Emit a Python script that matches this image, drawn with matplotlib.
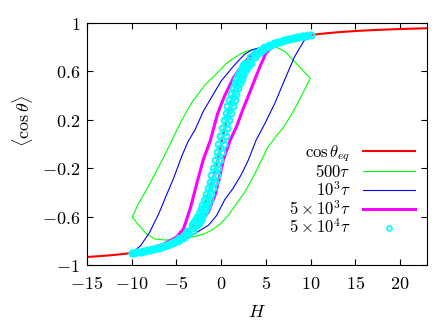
import matplotlib
matplotlib.use('Agg')
import matplotlib.pyplot as plt

plt.rcParams['mathtext.fontset'] = 'cm'
plt.rcParams['font.family'] = ['DejaVu Serif']

# equilibrium curve cos(theta_eq)
eq_h = [-15, -14, -13, -12, -11, -10, -9, -8, -7, -6, -5, -4, -3, -2.5, -2, -1.5, -1, -0.5, 0,
        0.5, 1, 1.5, 2, 2.5, 3, 4, 5, 6, 7, 8, 9, 10, 11, 12, 13, 14, 15, 16, 17, 18, 19, 20, 21, 22, 23]
eq_v = [-0.9333, -0.9286, -0.9231, -0.9167, -0.9091, -0.9, -0.8889, -0.875, -0.8571, -0.8333, -0.8, -0.7503,
        -0.6716, -0.6136, -0.5373, -0.438, -0.313, -0.164, 0.0, 0.164, 0.313, 0.438, 0.5373, 0.6136, 0.6716,
        0.7503, 0.8, 0.8333, 0.8571, 0.875, 0.8889, 0.9, 0.9091, 0.9167, 0.9231, 0.9286, 0.9333, 0.9375,
        0.9412, 0.9444, 0.9474, 0.95, 0.9524, 0.9545, 0.9565]

# 500 tau loop (lower branch then upper branch)
g_h = [-9.93, -9.2, -8.4, -7.4, -6.4, -5.2, -4.0, -3.0, -2.0, -1.0, 0.0, 0.9, 1.8, 2.7, 3.6, 4.4, 5.2, 6.0,
       7.0, 8.0, 9.0, 9.97,
       8.6, 7.2, 6.2, 5.0, 4.0, 3.0, 2.3, 1.2, 0.5, -0.4, -1.0, -1.8, -2.5, -3.3, -4.0, -4.8, -5.5, -6.3,
       -7.2, -8.0, -8.6, -9.3, -9.93]
g_v = [-0.606, -0.67, -0.74, -0.785, -0.793, -0.79, -0.78, -0.765, -0.745, -0.71, -0.655, -0.58, -0.485,
       -0.39, -0.27, -0.15, -0.03, 0.05, 0.14, 0.26, 0.40, 0.543,
       0.65, 0.76, 0.80, 0.80, 0.785, 0.77, 0.75, 0.70, 0.66, 0.59, 0.545, 0.49, 0.42, 0.34, 0.25, 0.14,
       0.03, -0.09, -0.22, -0.33, -0.41, -0.50, -0.606]

# 1e3 tau loop
b_h = [-10.0, -8.0, -6.0, -4.5, -4.0, -2.9, -1.4, -0.5, 0.4, 1.3, 2.2, 3.0, 3.9, 4.9, 6.0, 7.1, 8.2, 9.4,
       10.0,
       8.0, 6.0, 4.5, 3.4, 2.6, 1.4, 0.0, -1.2, -2.0, -2.9, -3.7, -4.4, -5.3, -6.1, -7.0, -8.0, -9.0, -9.4,
       -10.0]
b_v = [-0.895, -0.87, -0.83, -0.795, -0.78, -0.738, -0.67, -0.59, -0.46, -0.37, -0.26, -0.14, 0.03, 0.17,
       0.336, 0.53, 0.72, 0.87, 0.89,
       0.87, 0.84, 0.80, 0.777, 0.74, 0.645, 0.52, 0.37, 0.27, 0.12, 0.02, -0.10, -0.28, -0.42, -0.58,
       -0.73, -0.84, -0.865, -0.895]

# 5e3 tau loop
m_h = [-10.0, -8.0, -6.0, -4.5, -3.6, -2.5, -1.4, -0.67, -0.2, 0.26, 1.0, 1.7, 2.4, 2.9, 3.8, 4.4, 5.0,
       6.0, 8.0, 10.0,
       8.0, 6.0, 4.7, 3.6, 2.5, 1.4, 0.4, -0.4, -0.8, -1.2, -2.0, -2.7, -3.4, -4.2, -5.0, -6.5, -8.0, -10.0]
m_v = [-0.9, -0.87, -0.83, -0.76, -0.71, -0.655, -0.56, -0.42, -0.28, -0.13, 0.03, 0.14, 0.28, 0.37, 0.54,
       0.65, 0.75, 0.82, 0.87, 0.9,
       0.88, 0.84, 0.80, 0.75, 0.667, 0.55, 0.40, 0.25, 0.14, 0.03, -0.13, -0.32, -0.52, -0.70, -0.77,
       -0.83, -0.865, -0.9]

# 5e4 tau: field decreasing branch
c_dn_h = [-10.0, -9.5, -9.0, -8.5, -8.0, -7.5, -7.0, -6.6, -6.1, -5.6, -5.2, -4.7, -4.2, -3.8, -3.3, -3.1,
          -2.9, -2.7, -2.5, -2.3, -2.1, -1.9, -1.7, -1.5, -1.3, -1.1, -0.9, -0.7, -0.5, -0.3, -0.1, 0.1,
          0.3, 0.5, 0.7, 0.9, 1.1, 1.3, 1.5, 1.7, 1.9, 2.1, 2.3, 2.5, 2.7, 3.2, 3.8, 4.3, 4.8, 5.4, 5.9,
          6.4, 7.0, 7.5, 8.0, 8.5, 9.0, 9.5, 10.0]
c_dn_v = [-0.9, -0.8947, -0.8889, -0.8824, -0.875, -0.8667, -0.8571, -0.8462, -0.8333, -0.8182, -0.8,
          -0.778, -0.7503, -0.716, -0.6716, -0.6504, -0.6265, -0.5999, -0.5704, -0.5373, -0.5006, -0.46,
          -0.4152, -0.3662, -0.313, -0.2559, -0.1953, -0.1319, -0.0665, 0.0, 0.0665, 0.1319, 0.1953,
          0.2559, 0.313, 0.3662, 0.4152, 0.46, 0.5006, 0.5373, 0.5704, 0.5999, 0.6265, 0.6504, 0.6716,
          0.716, 0.7503, 0.778, 0.8, 0.8182, 0.8333, 0.8462, 0.8571, 0.8667, 0.875, 0.8824, 0.8889,
          0.8947, 0.9]
# 5e4 tau: field increasing branch
c_up_h = [-10.0, -9.5, -9.0, -8.5, -8.0, -7.5, -7.0, -6.4, -5.9, -5.4, -4.8, -4.3, -3.8, -3.2, -2.7, -2.5,
          -2.3, -2.1, -1.9, -1.7, -1.5, -1.3, -1.1, -0.9, -0.7, -0.5, -0.3, -0.1, 0.1, 0.3, 0.5, 0.7,
          0.9, 1.1, 1.3, 1.5, 1.7, 1.9, 2.1, 2.3, 2.5, 2.7, 2.9, 3.1, 3.3, 3.8, 4.2, 4.7, 5.2, 5.6, 6.1,
          6.6, 7.0, 7.5, 8.0, 8.5, 9.0, 9.5, 10.0]
c_up_v = c_dn_v
# 5e4 tau: points scattered between the two branches
c_mid_h = [-9.75, -9.25, -8.75, -8.25, -7.75, -7.25, -6.75, -6.25, -5.75, -5.25, -4.75, -4.25, -3.75,
           -3.25, -2.9, -2.7, -2.5, -2.3, -2.1, -1.9, -1.7, -1.5, -1.3, -1.1, -0.9, -0.7, -0.5, -0.3,
           -0.1, 0.1, 0.3, 0.5, 0.7, 0.9, 1.1, 1.3, 1.5, 1.7, 1.9, 2.1, 2.3, 2.5, 2.7, 2.9, 3.25, 3.75,
           4.25, 4.75, 5.25, 5.75, 6.25, 6.75, 7.25, 7.75, 8.25, 8.75, 9.25, 9.75]
c_mid_v = [-0.8974, -0.8919, -0.8857, -0.8788, -0.871, -0.862, -0.8519, -0.84, -0.8261, -0.8095, -0.7895,
           -0.7647, -0.7333, -0.6923, -0.6612, -0.6387, -0.6136, -0.5855, -0.5542, -0.5195, -0.4809,
           -0.438, -0.3913, -0.3401, -0.285, -0.226, -0.164, -0.0994, -0.0333, 0.0333, 0.0994, 0.164,
           0.226, 0.285, 0.3401, 0.3913, 0.438, 0.4809, 0.5195, 0.5542, 0.5855, 0.6136, 0.6387, 0.6612,
           0.6923, 0.7333, 0.7647, 0.7895, 0.8095, 0.8261, 0.84, 0.8519, 0.862, 0.871, 0.8788, 0.8857,
           0.8919, 0.8974]

xt = [-15, -10, -5, 0, 5, 10, 15, 20]
yt = [-1, -0.6, -0.2, 0.2, 0.6, 1]

fig = plt.figure(figsize=(4.36, 3.26), dpi=100)
ax = fig.add_axes([0.1995, 0.187, 0.7795, 0.7425])

ax.plot(eq_h, eq_v, color='#ff0000', lw=1.5, label=r'$\cos\theta_{eq}$')
ax.plot(g_h, g_v, color='#00ff00', lw=0.8, label=r'$500\tau$')
ax.plot(b_h, b_v, color='#0000ff', lw=0.8, label=r'$10^3\tau$')
ax.plot(m_h, m_v, color='#ff00ff', lw=2.2, label=r'$5\times10^3\tau$')
ax.plot(c_dn_h + c_mid_h + c_up_h, c_dn_v + c_mid_v + c_up_v, ls='none', marker='o', ms=4.2,
        mfc='none', mec='#00ffff', mew=1.4, label=r'$5\times10^4\tau$')

ax.set_xlim(-15, 23)
ax.set_ylim(-1, 1)
ax.set_xticks(xt)
ax.set_xticklabels(['$%g$' % t for t in xt], fontsize=13)
ax.set_yticks(yt)
ax.set_yticklabels(['$%g$' % t for t in yt], fontsize=13)
ax.tick_params(direction='in', length=4, width=0.8, top=True, right=True)
ax.tick_params(axis='y', pad=5)
ax.tick_params(axis='x', pad=7)
ax.set_xlabel('$H$', fontsize=13, va='center')
ax.xaxis.set_label_coords(0.5, -0.194)
ax.set_ylabel(r'$\langle\cos\theta\rangle$', fontsize=13, va='center')
ax.yaxis.set_label_coords(-0.19, 0.595)

leg = ax.legend(loc='lower right', bbox_to_anchor=(0.975, 0.1), frameon=False, markerfirst=False,
                numpoints=1, handlelength=3.1, handletextpad=0.75, labelspacing=0.0, fontsize=12,
                borderpad=0.2, borderaxespad=0.0)
for t in leg.get_texts():
    t.set_ha('right')
for h in leg.legend_handles:
    h.set_markersize(3.6)
    h.set_markeredgewidth(1.2)

fig.savefig('out.png', dpi=100)
